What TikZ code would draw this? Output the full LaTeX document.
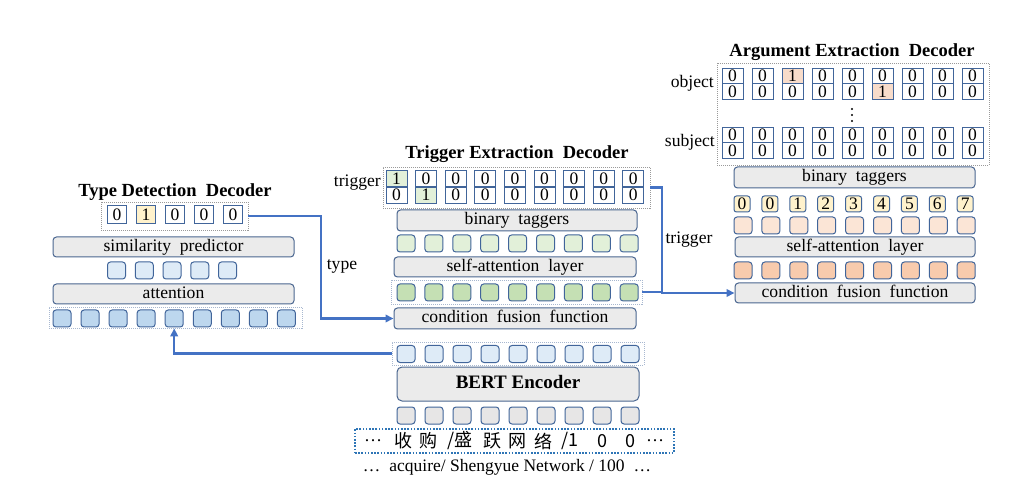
\documentclass[tikz,border=0pt]{standalone}
\usepackage{fontspec}
\setmainfont{Liberation Serif}
\newfontfamily\cjkfont{Noto Sans CJK SC}
\usetikzlibrary{arrows.meta,calc}
\definecolor{barfill}{HTML}{EBEBEB}
\definecolor{barline}{HTML}{4A6690}
\definecolor{cellline}{HTML}{41659A}
\definecolor{blueA}{HTML}{BDD7EE}
\definecolor{blueB}{HTML}{DEEBF7}
\definecolor{greyC}{HTML}{E7E6E6}
\definecolor{greenA}{HTML}{E2F0D9}
\definecolor{greenB}{HTML}{C5E0B4}
\definecolor{peachA}{HTML}{FBE5D6}
\definecolor{peachB}{HTML}{F8CBAD}
\definecolor{yellowA}{HTML}{FFF2CC}
\definecolor{hlpeach}{HTML}{F8DCCA}
\definecolor{arrowblue}{HTML}{4472C4}
\definecolor{framegrey}{HTML}{9A9A9A}
\definecolor{frameblue}{HTML}{A8B8D0}
\definecolor{boxblue}{HTML}{2E75B6}
\newcommand\myfs{\fontsize{17.6}{20}\selectfont}
\newcommand\bitfs{\fontsize{17.5}{18}\selectfont}
\tikzset{
  bar/.style={draw=barline, fill=barfill, line width=1pt, rounded corners=3.5pt, inner sep=0pt, font=\myfs, text height=12pt, text depth=3.5pt},
  cellbox/.style={draw=cellline, line width=1pt, rounded corners=3pt, minimum width=18pt, minimum height=17pt, inner sep=0pt},
  numcell/.style={draw=cellline, line width=1pt, rounded corners=2.5pt, minimum width=16pt, minimum height=16pt, inner sep=0pt, fill=yellowA, font=\bitfs},
  bitbox/.style={draw=cellline, line width=1pt, minimum width=21pt, minimum height=16pt, inner sep=0pt, font=\bitfs},
  frame/.style={draw=framegrey, line width=0.7pt, dash pattern=on 1pt off 1pt, inner sep=0pt},
  bframe/.style={draw=frameblue, line width=0.7pt, dash pattern=on 1pt off 1pt, inner sep=0pt},
  title/.style={font=\fontsize{18.5}{20}\selectfont\bfseries, inner sep=0pt},
  lbl/.style={font=\myfs, inner sep=0pt},
  arr/.style={draw=arrowblue, line width=2.2pt, -{Triangle[length=8pt,width=7.5pt]}},
  conn/.style={draw=arrowblue, line width=2.2pt},
  vdot/.style={fill=black, draw=none}
}
\begin{document}
\begin{tikzpicture}[x=1pt,y=-1pt]
\useasboundingbox[fill=white] (0,0) rectangle (1031,486);

% ---------------- Type Detection Decoder ----------------
\node[title] (ttitle) at (175,192) {Type Detection\ \ Decoder};
\node[frame, minimum width=147pt, minimum height=28pt] (typeframe) at (174.5,216) {};
\foreach \c/\f [count=\i from 0] in {0/white,1/yellowA,0/white,0/white,0/white}{
  \pgfmathsetmacro\xx{117+29*\i}
  \node[bitbox, fill=\f, minimum width=19pt, minimum height=18pt] (ty\i) at (\xx,215) {\c};
}
\node[bar, minimum width=241pt, minimum height=20pt] (simpred) at (173.5,247) {similarity\ \ predictor};
\foreach \i in {0,...,4}{
  \pgfmathsetmacro\xx{116.5+27.75*\i}
  \node[cellbox, fill=blueB] (sm\i) at (\xx,270.5) {};
}
\node[bar, minimum width=241pt, minimum height=20pt] (attn) at (173.5,294) {attention};
\node[bframe, minimum width=253pt, minimum height=21pt] (attframe) at (175.5,317.5) {};
\foreach \i in {0,...,8}{
  \pgfmathsetmacro\xx{62+28.05*\i}
  \node[cellbox, fill=blueA] (at\i) at (\xx,318.5) {};
}

% ---------------- Trigger Extraction Decoder ----------------
\node[title] (gtitle) at (517,154) {Trigger Extraction\ \ Decoder};
\node[lbl, anchor=east] (trigl) at (381,183) {trigger};
\node[frame, minimum width=267pt, minimum height=41pt] (trigframe) at (516.5,187.5) {};
\foreach \a/\b/\fa/\fb [count=\i from 0] in {1/0/greenA/white,0/1/white/greenA,0/0/white/white,0/0/white/white,0/0/white/white,0/0/white/white,0/0/white/white,0/0/white/white,0/0/white/white}{
  \pgfmathsetmacro\xx{396.5+29.6*\i}
  \node[bitbox, fill=\fa] (tt\i) at (\xx,178.7) {\a};
  \node[bitbox, fill=\fb] (tb\i) at (\xx,195.2) {\b};
}
\node[bar, minimum width=240pt, minimum height=21pt] (btmid) at (517,220.5) {binary\ \ taggers};
\foreach \i in {0,...,8}{
  \pgfmathsetmacro\xx{406+27.9*\i}
  \node[cellbox, fill=greenA] (ga\i) at (\xx,243.5) {};
}
\node[bar, minimum width=242pt, minimum height=20pt] (samid) at (515,267) {self-attention\ \ layer};
\node[bframe, minimum width=251pt, minimum height=24pt] (gframe) at (516.5,292) {};
\foreach \i in {0,...,8}{
  \pgfmathsetmacro\xx{406+27.9*\i}
  \node[cellbox, fill=greenB] (gb\i) at (\xx,292.5) {};
}
\node[bar, minimum width=242pt, minimum height=21pt] (cff) at (515,318.5) {condition\ \ fusion\ \ function};

% ---------------- BERT ----------------
\node[bframe, minimum width=252pt, minimum height=23pt] (bframe) at (518,353.5) {};
\foreach \i in {0,...,8}{
  \pgfmathsetmacro\xx{406+28*\i}
  \node[cellbox, fill=blueB] (bt\i) at (\xx,354) {};
}
\node[bar, minimum width=242pt, minimum height=34pt, rounded corners=5pt, font=\fontsize{19}{20}\selectfont\bfseries] (bert) at (518,384) {BERT Encoder};
\foreach \i in {0,...,8}{
  \pgfmathsetmacro\xx{406+28*\i}
  \node[cellbox, fill=greyC] (bb\i) at (\xx,415.5) {};
}
\node[draw=boxblue, line width=1.6pt, dash pattern=on 1.6pt off 1.6pt, minimum width=319pt, minimum height=24pt, inner sep=0pt] (inbox) at (514.5,441) {};
\foreach \x/\t [count=\i] in {373/{\textrm{…}},403/{收},428/{购},460/{/盛},492/{跃},517/{网},543/{络},570/{/1},602/{0},630/{0},655/{\textrm{…}}}{
  \node[font=\cjkfont\fontsize{18}{20}\selectfont, inner sep=0pt] (ch\i) at (\x,441) {\t};
}
\node[lbl, font=\fontsize{17.5}{20}\selectfont] (entext) at (507,467) {…\hspace{9pt}acquire/ Shengyue Network / 100\hspace{9pt}…};

% ---------------- Argument Extraction Decoder ----------------
\node[title] (atitle) at (852,52) {Argument Extraction\ \ Decoder};
\node[frame, minimum width=272pt, minimum height=102pt] (argframe) at (853,114) {};
\node[lbl, anchor=east] (objl) at (714,83) {object};
\node[lbl, anchor=east] (subl) at (715,142) {subject};
\foreach \a/\b/\fa/\fb [count=\i from 0] in {0/0/white/white,0/0/white/white,1/0/hlpeach/white,0/0/white/white,0/0/white/white,0/1/white/hlpeach,0/0/white/white,0/0/white/white,0/0/white/white}{
  \pgfmathsetmacro\xx{732.5+30*\i}
  \node[bitbox, fill=\fa, minimum height=15.5pt] (ot\i) at (\xx,75.8) {\a};
  \node[bitbox, fill=\fb, minimum height=15.5pt] (ob\i) at (\xx,91.3) {\b};
  \node[bitbox, minimum height=15.5pt] (st\i) at (\xx,134.8) {0};
  \node[bitbox, minimum height=15.5pt] (sb\i) at (\xx,150.3) {0};
}
\foreach \yy in {109,115,121}{
  \fill[vdot] (852,\yy) circle (1.2pt);
}
\node[bar, minimum width=241pt, minimum height=21pt] (btarg) at (854.5,177.5) {binary\ \ taggers};
\foreach \n [count=\i from 0] in {0,0,1,2,3,4,5,6,7}{
  \pgfmathsetmacro\xx{742+27.9*\i}
  \node[numcell] (nm\i) at (\xx,204) {\n};
}
\foreach \i in {0,...,8}{
  \pgfmathsetmacro\xx{743+27.9*\i}
  \node[cellbox, fill=peachA] (pa\i) at (\xx,225.5) {};
  \node[cellbox, fill=peachB] (pb\i) at (\xx,270.5) {};
}
\node[bar, minimum width=240pt, minimum height=20pt] (saarg) at (855,247) {self-attention\ \ layer};
\node[bar, minimum width=240pt, minimum height=20pt] (cffarg) at (855,293) {condition\ \ fusion\ \ function};

% ---------------- connectors ----------------
\coordinate (typebend) at (321,216);
\draw[arr] (typeframe.east) -- (typebend) |- (cff.west);
\node[lbl] (typel) at (342,266) {type};
\draw[arr] (bframe.west) -| (attframe.south -| at4);
\coordinate (trigbend) at (662,187.5);
\draw[arr] (trigframe.east) -- (trigbend) |- (cffarg.west);
\draw[conn] (gframe.east) -- (gframe.east -| trigbend);
\node[lbl] (trigr) at (689,240) {trigger};
\end{tikzpicture}
\end{document}
